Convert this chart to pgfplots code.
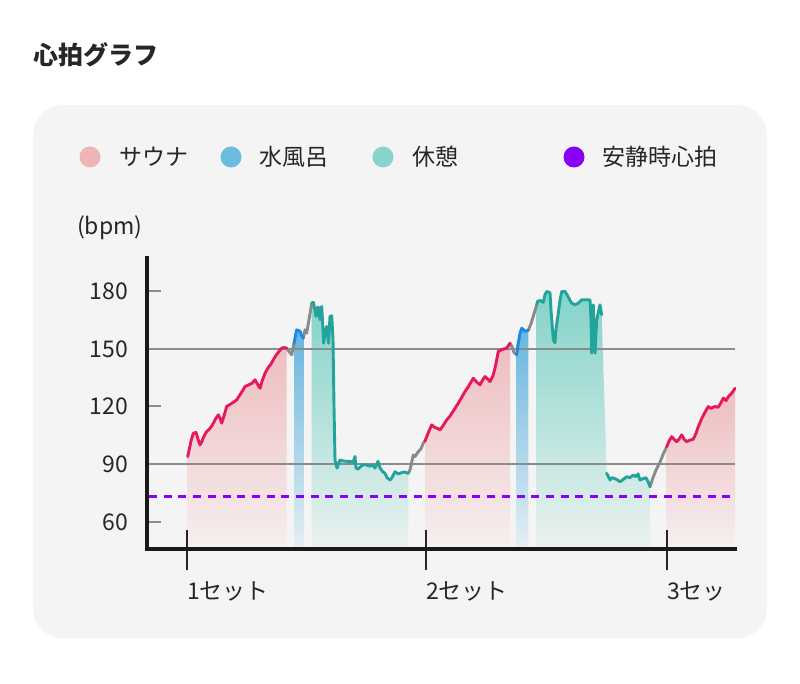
\documentclass[border=0pt]{standalone}
\usepackage{pgfplots}
\usepackage{pgfplotstable}
\pgfplotsset{compat=1.18}
\usepackage{fontspec}
\setmainfont{Noto Sans CJK JP}

\definecolor{cardbg}{HTML}{F5F4F4}
\definecolor{txt}{HTML}{262626}
\definecolor{gridgray}{HTML}{8C8C8C}
\definecolor{saunaLine}{HTML}{E5195C}
\definecolor{saunaTop}{HTML}{EEBDBF}
\definecolor{saunaBot}{HTML}{F6EFEF}
\definecolor{waterLine}{HTML}{1E88E5}
\definecolor{waterTop}{HTML}{66B5DE}
\definecolor{waterBot}{HTML}{E6EFF3}
\definecolor{restLine}{HTML}{22A39C}
\definecolor{restTop}{HTML}{84D3C9}
\definecolor{restBot}{HTML}{EBF2F0}
\definecolor{transLine}{HTML}{8A8A8A}
\definecolor{restHR}{HTML}{8A00F5}
\definecolor{legSauna}{HTML}{EDB5B5}
\definecolor{legWater}{HTML}{6BBCDF}
\definecolor{legRest}{HTML}{86D4CB}

\pgfplotstableread{
x y
187.7 93.9
189 97
191 102
193.3 106
196 106.5
198 103
200 100
202 102
204 104.5
206.7 107
209 108
212 110
215 113
218.3 115.6
220 114
221.7 111.3
224 115
226.7 120
230 121
233 122
236.7 123.4
240 126
243 128.5
245 130.3
248 131
252 132
255 133.8
257 132
260 129.4
262 133
265 137.2
268 140
271 142
273.3 144.2
276 146.5
279 148.5
281.7 150.2
284 150.5
286.7 150.2
}\saunaA

\pgfplotstableread{
x y
286.7 150.2
289 148.5
291.7 146.8
294 152.6
}\transA

\pgfplotstableread{
x y
294 152.6
295.5 157
296.7 159.7
298 159.5
300 159
301.5 157
303.3 155.4
}\waterA

\pgfplotstableread{
x y
303.3 155.4
305 159.7
306.7 158
308.3 163
310 168
311.7 173.6
}\transB

\pgfplotstableread{
x y
311.7 173.6
313.3 174
315 170
316 166.7
317.5 171.3
318.3 171.5
319 168
320 165
321.7 171.9
323 160
323.6 152.8
325 158
326.7 161.5
328 155
328.6 152.8
330 166.7
331.7 167
333 155
334 120
335 92.2
336 90
337 88
340 92.2
343 91.7
347 91.5
350 91.5
353 91
355 94
356 88
358 87.5
363 89.8
367 89.5
370 89
373 89.5
375 88
378 91.5
380 88
383 86
385 85.3
387 83
390 81.8
392 83
395 86.1
398 85
400 85.3
404 86
408.3 85.3
}\restA

\pgfplotstableread{
x y
408.3 85.3
410 87
413.3 94.8
415 94
418.3 96.5
421 98
423.3 101
425 102
}\transC

\pgfplotstableread{
x y
425 102
428 106
431.7 110.4
435 109
438 108.5
440 107.8
443 110
446.7 113
450 115
455 119
458.3 121.7
462 125
465 127.7
468 130
473.3 134.6
476 133
480 131.2
483 134
485 135.5
488 134
490 132.9
493 136
495 139.8
497 145
498.3 148.5
502 149.5
506.7 150.2
510 152.8
}\saunaB

\pgfplotstableread{
x y
510 152.8
512 151
514 148
516.7 146.8
}\transD

\pgfplotstableread{
x y
516.7 146.8
518 152
520 158
521.7 160.6
523 160
525 159
528.3 159.5
}\waterB

\pgfplotstableread{
x y
528.3 159.5
531 163
534 168
536.7 172.7
}\transE

\pgfplotstableread{
x y
536.7 172.7
537.5 174.4
540 175
543.3 174
545 178
546.7 179.6
550 179
551 170
553.3 154.5
555 153
556 160
558.3 168.4
560 175
561.7 179.6
565 179.6
567 178
570 175
571.7 173.6
575 172.7
578 173.5
581.7 175.3
585 175.3
590 175.3
591 165
591.7 147.6
592.5 160
593.3 172.7
594 160
595 147.6
596.7 164.9
598 168
600 172.7
601.7 167.5
604 nan
606.7 85.3
608 84
610 81.8
612 83
615 82.5
617 82
620 80.9
623 82
626.7 83.5
630 83
633.3 84.4
636 83.5
638 85
640 81.8
643 82.5
646 83
648 81
650 78.3
}\restB

\pgfplotstableread{
x y
650 78.3
653 83
656 87
660 91
663 95
666.7 99.1
}\transF

\pgfplotstableread{
x y
666.7 99.1
669 102
671.7 104.3
674 103
676.7 101.7
679 103
681.7 105.2
684 103
686.7 101.7
690 102.5
693.3 103
696 106
698.3 109.5
702 114
705 117
708.3 119.9
711 119
715 120
718 119.5
720 121
723.3 124.3
726 123
728.3 125
732 127
735 129.4
}\saunaC

\begin{document}
\begin{tikzpicture}[x=1pt,y=1pt]
\fill[white] (0,0) rectangle (800,683);
\fill[cardbg, rounded corners=30pt] (33,45) rectangle (767,578);
% title
\node[anchor=west, inner sep=0pt, text=txt, font=\fontsize{25}{30}\selectfont\bfseries] at (33,628) {心拍グラフ};
% legend
\fill[legSauna] (90,526) circle (10.5);
\node[anchor=west, inner sep=0pt, text=txt, font=\fontsize{23}{28}\selectfont] at (119,526) {サウナ};
\fill[legWater] (231,526) circle (10.5);
\node[anchor=west, inner sep=0pt, text=txt, font=\fontsize{23}{28}\selectfont] at (259,526) {水風呂};
\fill[legRest] (383,526) circle (10.5);
\node[anchor=west, inner sep=0pt, text=txt, font=\fontsize{23}{28}\selectfont] at (412,526) {休憩};
\fill[restHR] (574,526) circle (10.5);
\node[anchor=west, inner sep=0pt, text=txt, font=\fontsize{23}{28}\selectfont] at (602,526) {安静時心拍};
% unit
\node[anchor=west, inner sep=0pt, text=txt, font=\fontsize{23}{28}\selectfont] at (77,455) {(bpm)};

\begin{axis}[
  at={(147pt,134pt)}, anchor=south west,
  scale only axis, width=588pt, height=291pt,
  xmin=147, xmax=735, ymin=46, ymax=197,
  axis x line*=bottom, axis y line*=left,
  axis line style={draw=black!90, line width=3.6pt, line cap=rect},
  axis on top,
  clip=false,
  major tick length=0pt,
  xtick={187,426,667},
  xticklabels={1セット,2セット,3セッ},
  ytick={60,90,120,150,180},
  /pgf/number format/assume math mode=true,
  tick label style={font=\fontsize{23}{28}\selectfont, text=txt},
  xticklabel style={anchor=base west, inner sep=0pt, yshift=-50pt},
  yticklabel style={anchor=base east, inner sep=0pt, xshift=-19pt, yshift=-8.5pt},
  every axis plot/.append style={line join=round, line cap=round},
]
% fills
\addplot[draw=none, top color=saunaTop, bottom color=saunaBot] table {\saunaA} -- (axis cs:286.7,46) -- (axis cs:187.7,46) -- cycle;
\addplot[draw=none, top color=waterTop, bottom color=waterBot] table {\waterA} -- (axis cs:303.3,46) -- (axis cs:294,46) -- cycle;
\addplot[draw=none, top color=restTop, bottom color=restBot] table {\restA} -- (axis cs:408.3,46) -- (axis cs:311.7,46) -- cycle;
\addplot[draw=none, top color=saunaTop, bottom color=saunaBot] table {\saunaB} -- (axis cs:510,46) -- (axis cs:425,46) -- cycle;
\addplot[draw=none, top color=waterTop, bottom color=waterBot] table {\waterB} -- (axis cs:528.3,46) -- (axis cs:516.7,46) -- cycle;
\addplot[draw=none, top color=restTop, bottom color=restBot, unbounded coords=discard] table {\restB} -- (axis cs:650,46) -- (axis cs:536.7,46) -- cycle;
\addplot[draw=none, top color=saunaTop, bottom color=saunaBot] table {\saunaC} -- (axis cs:735,46) -- (axis cs:666.7,46) -- cycle;
% grid lines
\addplot[gridgray, line width=2pt, line cap=butt] coordinates {(147,150) (735,150)};
\addplot[gridgray, line width=2pt, line cap=butt] coordinates {(147,90) (735,90)};
% short y ticks
\draw[gridgray, line width=2pt] (axis cs:147,60) -- (axis cs:161,60);
\draw[gridgray, line width=2pt] (axis cs:147,120) -- (axis cs:161,120);
\draw[gridgray, line width=2pt] (axis cs:147,180) -- (axis cs:161,180);
% x ticks
\draw[black!85, line width=1.6pt] (axis cs:187,55.8) -- (axis cs:187,35.1);
\draw[black!85, line width=1.6pt] (axis cs:426,55.8) -- (axis cs:426,35.1);
\draw[black!85, line width=1.6pt] (axis cs:667,55.8) -- (axis cs:667,35.1);
% resting HR
\addplot[restHR, line width=3pt, line cap=butt, dash pattern=on 8pt off 6.7pt] coordinates {(149,73) (735,73)};
% curves
\addplot[transLine, line width=2.9pt] table {\transA};
\addplot[transLine, line width=2.9pt] table {\transB};
\addplot[transLine, line width=2.9pt] table {\transC};
\addplot[transLine, line width=2.9pt] table {\transD};
\addplot[transLine, line width=2.9pt] table {\transE};
\addplot[transLine, line width=2.9pt] table {\transF};
\addplot[saunaLine, line width=2.9pt] table {\saunaA};
\addplot[saunaLine, line width=2.9pt] table {\saunaB};
\addplot[saunaLine, line width=2.9pt] table {\saunaC};
\addplot[waterLine, line width=2.9pt] table {\waterA};
\addplot[waterLine, line width=2.9pt] table {\waterB};
\addplot[restLine, line width=2.9pt] table {\restA};
\addplot[restLine, line width=2.9pt, unbounded coords=jump] table {\restB};
\end{axis}
\end{tikzpicture}
\end{document}
